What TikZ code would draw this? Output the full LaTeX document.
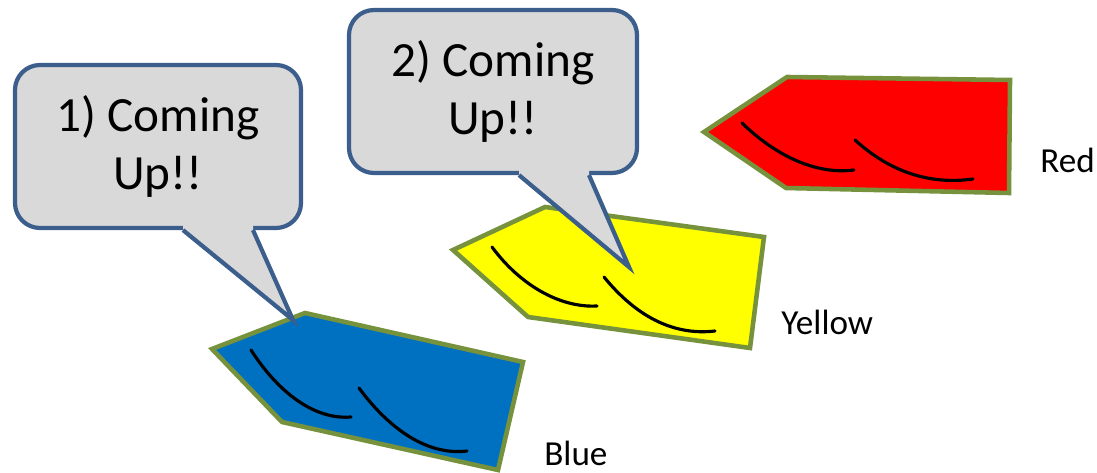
\documentclass[tikz,border=0pt]{standalone}
\usepackage{fontspec}
\setmainfont{Carlito}
\usetikzlibrary{calc}
\definecolor{tagBlue}{HTML}{0070C0}
\definecolor{tagYellow}{HTML}{FFFF00}
\definecolor{tagRed}{HTML}{FF0000}
\definecolor{tagOlive}{HTML}{76923C}
\definecolor{bubEdge}{HTML}{3B5E8C}
\definecolor{bubFill}{HTML}{D9D9D9}
\tikzset{
  tag/.style={draw=tagOlive, line width=2.6pt, line join=miter},
  stroke/.style={draw=black, line width=1.8pt, line cap=round},
  bubble/.style={draw=bubEdge, fill=bubFill, line width=2.4pt, rounded corners=5mm,
              align=center, inner sep=0pt, font=\fontsize{28}{32.5}\selectfont},
  tip/.style={draw=bubEdge, line width=2.4pt, line join=miter},
  lbl/.style={anchor=base west, inner sep=0pt, font=\fontsize{20}{24}\selectfont},
}

\begin{document}
\begin{tikzpicture}[x=0.2mm,y=-0.2mm]
        \useasboundingbox (0,0) rectangle (1097,473);
        % tags
        \filldraw[tag,fill=tagRed] (704,132) -- (787,77) -- (1010,80) -- (1009,193) -- (786,188) -- cycle;
        \draw[stroke] (742,123) .. controls (775,155) and (815,175) .. (854,170);
        \draw[stroke] (855,140) .. controls (890,172) and (930,185) .. (973,179);
        \filldraw[tag,fill=tagYellow] (453,250) -- (545,207) -- (764,237) -- (750,348) -- (528,317) -- cycle;
        \draw[stroke] (492,247) .. controls (520,285) and (560,308) .. (597,306);
        \draw[stroke] (604,277) .. controls (635,315) and (672,336) .. (715,331);
        \filldraw[tag,fill=tagBlue] (212,349) -- (305,313) -- (523,362) -- (498,470) -- (282,422) -- cycle;
        \draw[stroke] (251,350) .. controls (278,392) and (314,420) .. (351,417);
        \draw[stroke] (359,388) .. controls (387,426) and (425,456) .. (467,451);
        \node[lbl] (lred) at (1040,173) {Red};
        \node[lbl] (lyellow) at (781,334) {Yellow};
        \node[lbl] (lblue) at (544,465) {Blue};
        % bubbles
        \node[bubble,minimum width=57.2mm,minimum height=32.6mm] (b1) at (158,146.5) {1) Coming\\Up!!};
        \node[bubble,minimum width=57.6mm,minimum height=32.6mm] (b2) at (493,91.5) {2) Coming\\Up!!};
        \coordinate (t1) at (293,320);
        \coordinate (t2) at (629,267);
        \fill[bubFill] ($(b1.south)+(25,0)$) -- (t1) -- ($(b1.south)+(95,0)$) -- ($(b1.south)+(95,-6)$) -- ($(b1.south)+(25,-6)$) -- cycle;
        \draw[tip] ($(b1.south)+(25,0)$) -- (t1) -- ($(b1.south)+(95,0)$);
        \fill[bubFill] ($(b2.south)+(26,0)$) -- (t2) -- ($(b2.south)+(96,0)$) -- ($(b2.south)+(96,-6)$) -- ($(b2.south)+(26,-6)$) -- cycle;
        \draw[tip] ($(b2.south)+(26,0)$) -- (t2) -- ($(b2.south)+(96,0)$);
\end{tikzpicture}
\end{document}
